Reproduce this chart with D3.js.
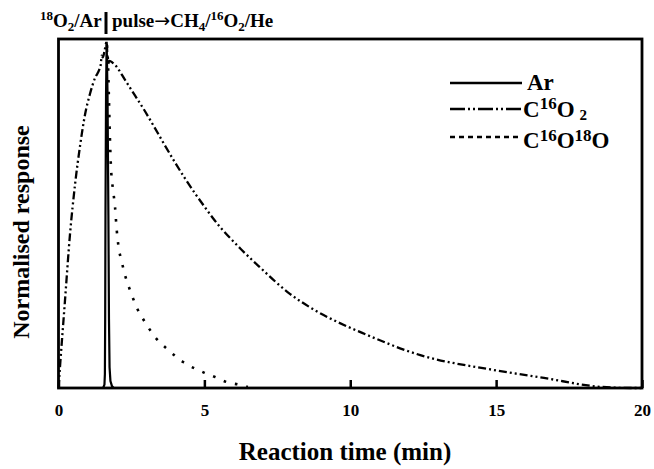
<!DOCTYPE html>
<html>
<head>
<meta charset="utf-8">
<script src="https://cdn.jsdelivr.net/npm/d3@7"></script>
<style>
  body { margin: 0; background: #fff; }
  text { font-family: "Liberation Serif", "Times New Roman", serif; font-weight: bold; fill: #000; }
</style>
</head>
<body>
<div id="chart"></div>
<script>
// values (time in min, normalised response)
var arTime = [1.53, 1.575, 1.59, 1.60, 1.61, 1.63, 1.65, 1.68, 1.71, 1.73, 1.75, 1.78, 1.83, 1.89];
var arResp = [0, 0.01, 0.04, 0.2, 0.5, 0.85, 1.0, 0.85, 0.5, 0.2, 0.06, 0.02, 0.006, 0];

var co2Time = [0, 0.05, 0.22, 0.39, 0.57, 0.74, 0.91, 1.08, 1.25, 1.40, 1.45, 1.48, 1.52, 1.58, 1.65, 1.69, 1.75, 1.85, 1.94,
  2.28, 2.62, 2.96, 3.31, 3.65, 3.99, 4.33, 4.68, 5.02, 5.29, 6.29, 6.9, 7.93, 8.72, 9.89, 10.33, 12.4, 14.92, 16.64, 18.63, 19.66, 20];
var co2Resp = [0, 0.06, 0.25, 0.44, 0.59, 0.70, 0.79, 0.85, 0.895, 0.92, 0.935, 0.96, 0.955, 0.975, 1.0, 0.935, 0.945, 0.94, 0.933,
  0.89, 0.845, 0.80, 0.75, 0.70, 0.652, 0.606, 0.562, 0.522, 0.491, 0.398, 0.349, 0.272, 0.228, 0.178, 0.162, 0.095, 0.052, 0.029, 0.003, 0, 0];

var mixTime = [1.66, 1.70, 1.73, 1.76, 1.80, 1.88, 1.94, 1.99, 2.05, 2.17, 2.28, 2.45, 2.69, 2.96, 3.31, 3.72, 4.27, 4.95, 5.36, 5.77, 6.22, 6.49];
var mixResp = [0.99, 0.93, 0.83, 0.73, 0.635, 0.566, 0.52, 0.462, 0.413, 0.364, 0.326, 0.283, 0.231, 0.191, 0.147, 0.113, 0.075, 0.046, 0.032, 0.017, 0.009, 0.003];

var xTicks = [0, 5, 10, 15, 20];

var margin = {top: 39, left: 58.5},
    width = 583.5,
    height = 349;

var svg = d3.select("#chart")
  .append("svg")
    .attr("width", 654)
    .attr("height", 469);

var g = svg.append("g")
    .attr("transform", "translate(" + margin.left + "," + margin.top + ")");

var x = d3.scaleLinear()
  .domain([0, 20])
  .range([0, width]);

var y = d3.scaleLinear()
  .domain([0, 1.008])
  .range([height, 0]);

function zip(t, v){
  return t.map(function(d, i){ return [d, v[i]]; });
}

var line = d3.line()
  .x(function(d){ return x(d[0]); })
  .y(function(d){ return y(d[1]); })
  .curve(d3.curveMonotoneX);

// curves
g.append("path")
  .datum(zip(co2Time, co2Resp))
  .attr("d", line)
  .attr("fill", "none")
  .attr("stroke", "#000")
  .attr("stroke-width", 2.3)
  .attr("stroke-dasharray", "8,3,2,3,2,3");

g.append("path")
  .datum(zip(mixTime, mixResp))
  .attr("d", line)
  .attr("fill", "none")
  .attr("stroke", "#000")
  .attr("stroke-width", 2.6)
  .attr("stroke-dasharray", "2.6,9");

g.append("path")
  .datum(zip(arTime, arResp))
  .attr("d", d3.line().x(function(d){ return x(d[0]); }).y(function(d){ return y(d[1]); }))
  .attr("fill", "none")
  .attr("stroke", "#000")
  .attr("stroke-width", 2.2);

// ticks inside the frame, labels below
var xAxis = g.append("g")
  .attr("transform", "translate(0," + height + ")")
  .call(d3.axisBottom(x).tickValues(xTicks).tickSize(-8).tickPadding(16).tickFormat(d3.format("d")));
xAxis.select(".domain").remove();
xAxis.selectAll(".tick line").attr("stroke", "#000").attr("stroke-width", 2.5);
xAxis.selectAll(".tick text")
  .attr("font-family", "Liberation Serif")
  .attr("font-weight", "bold")
  .attr("font-size", "17px");

// frame
g.append("rect")
  .attr("width", width)
  .attr("height", height)
  .attr("fill", "none")
  .attr("stroke", "#000")
  .attr("stroke-width", 2.8);

// axis titles
svg.append("text")
  .attr("text-anchor", "middle")
  .attr("x", 345)
  .attr("y", 460)
  .attr("font-size", "25px")
  .text("Reaction time (min)");

svg.append("text")
  .attr("text-anchor", "middle")
  .attr("transform", "translate(29,232)rotate(-90)")
  .attr("font-size", "24px")
  .text("Normalised response");

// header
var head1 = svg.append("text")
  .attr("x", 40)
  .attr("y", 27)
  .attr("font-size", "19px");
head1.append("tspan").attr("font-size", "13px").attr("dy", -7).text("18");
head1.append("tspan").attr("dy", 7).text("O");
head1.append("tspan").attr("font-size", "13px").attr("dy", 4).text("2");
head1.append("tspan").attr("dy", -4).text("/Ar");

var head2 = svg.append("text")
  .attr("x", 112)
  .attr("y", 27)
  .attr("font-size", "19px");
head2.append("tspan").text("pulse");
head2.append("tspan").attr("font-family", "DejaVu Sans").attr("font-weight", "normal").text("\u2192");
head2.append("tspan").text("CH");
head2.append("tspan").attr("font-size", "13px").attr("dy", 4).text("4");
head2.append("tspan").attr("dy", -4).text("/");
head2.append("tspan").attr("font-size", "13px").attr("dy", -7).text("16");
head2.append("tspan").attr("dy", 7).text("O");
head2.append("tspan").attr("font-size", "13px").attr("dy", 4).text("2");
head2.append("tspan").attr("dy", -4).text("/He");

svg.append("line")
  .attr("x1", 106).attr("x2", 106)
  .attr("y1", 12).attr("y2", 34)
  .attr("stroke", "#000")
  .attr("stroke-width", 3);

// legend
var legend = [
  {dash: null, y: 83},
  {dash: "15,3,2,3,2,3", y: 109},
  {dash: "5,4", y: 137}
];
svg.selectAll(".legLine")
  .data(legend)
  .enter()
  .append("line")
  .attr("class", "legLine")
  .attr("x1", 450).attr("x2", 522)
  .attr("y1", function(d){ return d.y; })
  .attr("y2", function(d){ return d.y; })
  .attr("stroke", "#000")
  .attr("stroke-width", 2.3)
  .attr("stroke-dasharray", function(d){ return d.dash; });

svg.append("text")
  .attr("x", 527).attr("y", 90)
  .attr("font-size", "23px")
  .text("Ar");

var l2 = svg.append("text")
  .attr("x", 523).attr("y", 117)
  .attr("font-size", "23px");
l2.append("tspan").text("C");
l2.append("tspan").attr("font-size", "17px").attr("dy", -8).text("16");
l2.append("tspan").attr("dy", 8).text("O");
l2.append("tspan").attr("font-size", "15px").attr("dx", 5).attr("dy", 3).text("2");

var l3 = svg.append("text")
  .attr("x", 523).attr("y", 148)
  .attr("font-size", "23px");
l3.append("tspan").text("C");
l3.append("tspan").attr("font-size", "17px").attr("dy", -7).text("16");
l3.append("tspan").attr("dy", 7).text("O");
l3.append("tspan").attr("font-size", "17px").attr("dy", -7).text("18");
l3.append("tspan").attr("dy", 7).text("O");
</script>
</body>
</html>
